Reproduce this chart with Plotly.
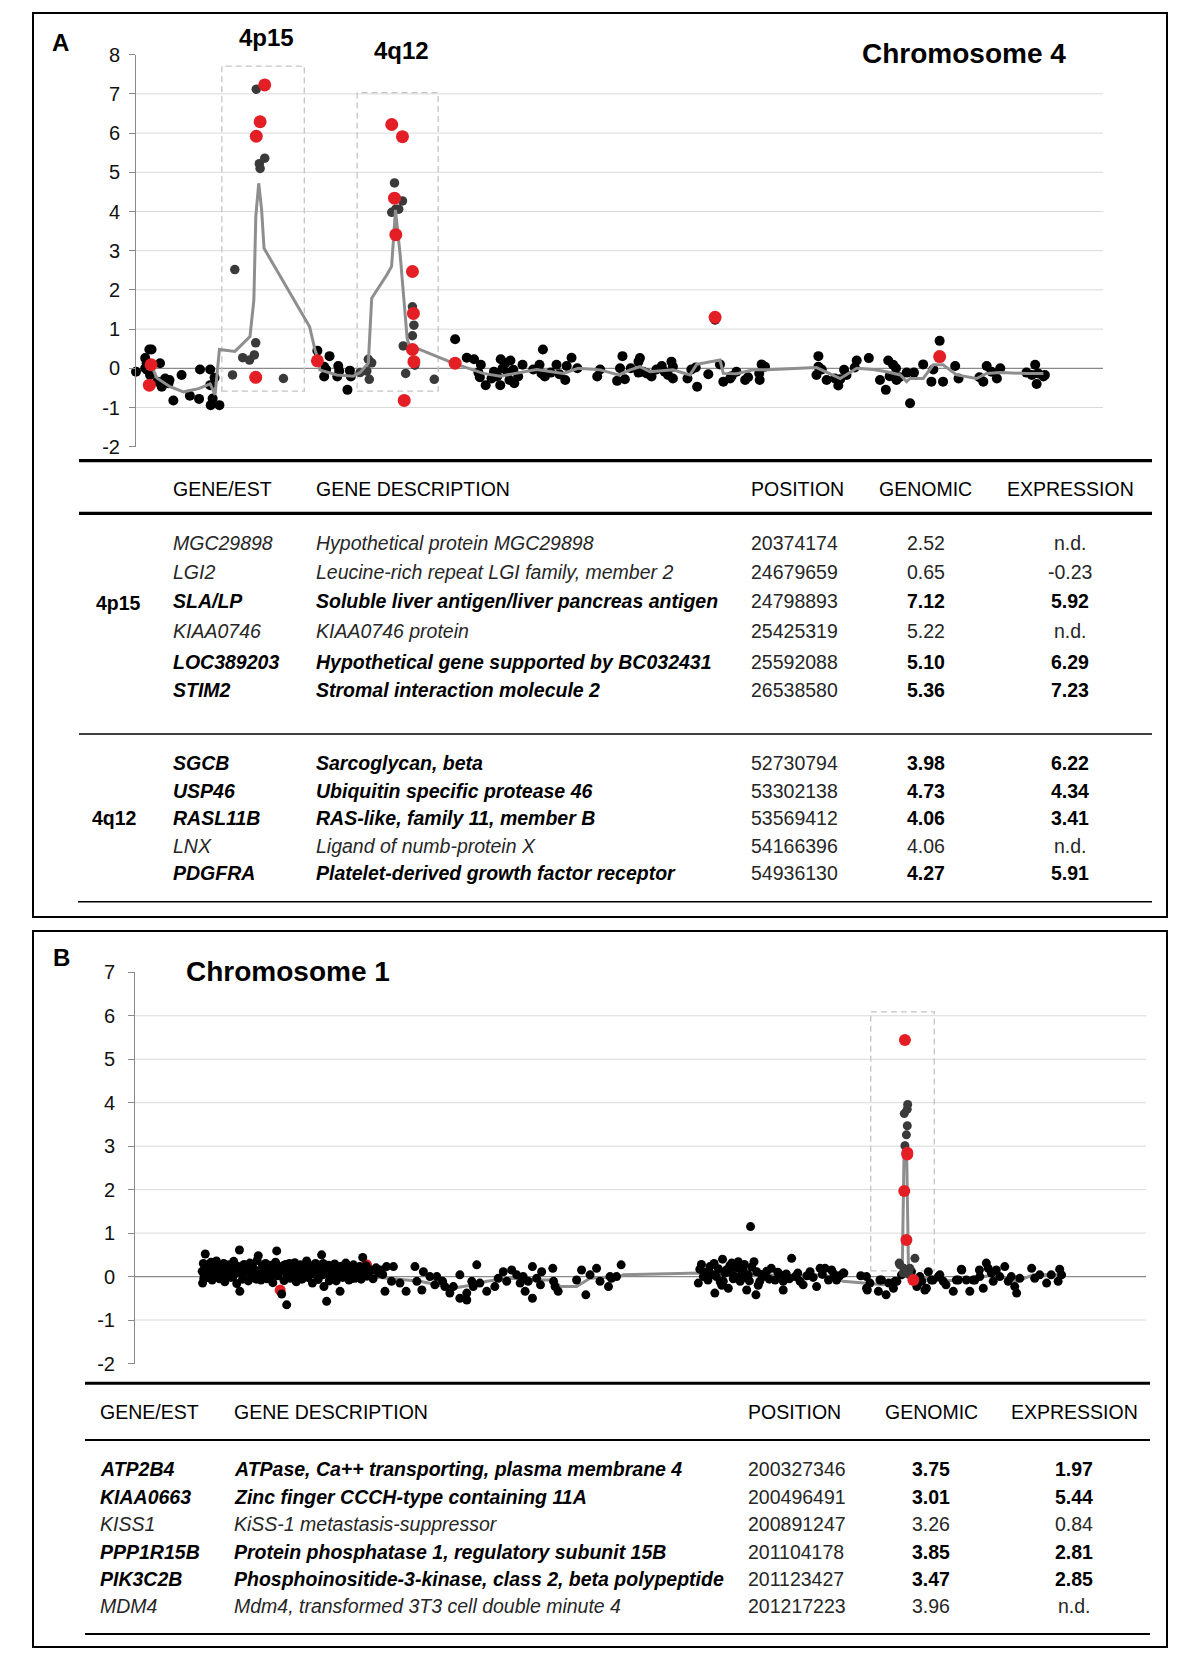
import plotly.graph_objects as go

W, H = 1200, 1663
def px(x): return x / W
def py(y): return 1 - y / H

# ------------------------------------------------------------------ DATA
# Chromosome 4 : (position Mb, log-ratio)
chr4_black = [(0.0,-0.09),(1.9,0.26),(2.2,0.13),(2.75,0.48),(3.2,0.48),(1.9,0.0),(2.3,-0.04),(2.9,-0.17),
    (4.95,0.13),(4.4,-0.34),(5.3,-0.47),(6.0,-0.26),(6.9,-0.30),(6.7,-0.38),(7.7,-0.82),(9.4,-0.17),
    (11.1,-0.70),(13.0,-0.78),(13.2,-0.03),(15.3,-0.03),(15.3,-0.43),(16.2,-0.24),(15.8,-0.77),(15.4,-0.94),(17.2,-0.94),
    (37.4,0.45),(39.9,0.31),(38.8,0.04),(39.2,-0.03),(38.8,-0.21),(41.7,0.06),(41.9,-0.07),(41.5,-0.21),
    (43.6,-0.55),(44.1,-0.06),(44.3,-0.21),
    (65.8,0.74),(68.2,0.27),(69.7,0.23),(70.6,-0.11),(71.1,0.09),(70.9,-0.23),(72.1,-0.43),(73.3,-0.26),
    (73.8,-0.09),(74.5,-0.20),(75.1,-0.43),(75.2,0.23),(75.6,0.0),(76.1,0.13),(76.6,-0.11),(77.0,-0.30),
    (77.2,0.20),(77.8,-0.04),(78.0,-0.38),(78.8,-0.21),(79.7,0.09),(81.9,-0.03),(83.2,0.09),(83.9,0.48),
    (83.6,-0.13),(84.3,-0.21),(85.5,-0.11),(86.7,0.09),(87.3,-0.15),(88.5,-0.30),(88.8,0.06),(89.8,0.27),
    (91.0,0.0),(95.7,-0.03),(95.1,-0.21),(99.2,-0.32),(100.3,0.31),(99.8,0.0),(100.8,-0.28),(102.0,0.0),
    (103.6,0.17),(103.6,-0.11),(103.9,0.26),(104.6,-0.09),(105.3,-0.13),(106.3,-0.21),(107.3,-0.03),
    (108.4,0.06),(109.0,-0.09),(109.7,-0.17),(110.4,0.17),(110.7,0.04),(110.7,-0.26),(113.7,-0.26),
    (114.5,-0.03),(115.4,0.02),(115.7,-0.47),(118.0,-0.15),(119.4,1.24),(120.4,0.10),(121.1,-0.34),
    (122.5,-0.26),(122.8,-0.20),(123.8,-0.09),(125.6,-0.30),(126.2,-0.23),(128.6,-0.30),(128.5,-0.13),
    (129.0,0.10),(129.7,0.04),(140.7,0.31),(140.3,-0.17),(140.7,0.04),(141.4,-0.03),(142.4,-0.30),
    (144.1,-0.26),(144.8,-0.44),(145.2,-0.28),(146.0,-0.04),(146.5,-0.17),(148.2,0.02),(148.6,0.20),
    (151.1,0.26),(153.4,-0.30),(154.6,-0.55),(155.1,0.20),(155.4,-0.20),(156.1,0.09),(156.7,0.0),
    (156.8,-0.30),(157.4,-0.23),(158.9,-0.11),(159.6,-0.89),(160.4,-0.11),(162.3,0.10),(164.0,-0.34),
    (164.4,-0.03),(165.7,0.70),(166.4,-0.34),(168.9,0.06),(169.6,-0.26),(173.9,-0.23),(174.7,-0.34),
    (175.4,0.06),(176.4,-0.09),(177.5,-0.26),(178.2,0.0),(183.6,-0.11),(184.7,-0.17),(185.4,0.09),
    (185.7,-0.40),(186.0,-0.13),(187.1,-0.21),(187.4,-0.17)]
chr4_boxed = [(19.9,-0.17),(20.37,2.52),(22.0,0.27),(23.4,0.21),(24.4,0.34),(24.68,0.65),(24.80,7.12),
    (25.43,5.22),(25.59,5.10),(26.54,5.36),(30.4,-0.26),
    (46.2,-0.11),(47.6,-0.07),(47.9,0.23),(48.6,0.14),(48.1,-0.28),(52.73,3.98),(53.30,4.73),(53.57,4.06),
    (54.17,4.06),(54.94,4.27),(55.1,0.57),(55.6,-0.13),(57.0,1.57),(57.3,1.10),(57.0,0.83),(57.5,0.08),(61.5,-0.28)]
chr4_red = [(3.1,0.09),(2.75,-0.43),(24.68,-0.23),(24.80,5.92),(25.59,6.29),(26.54,7.23),(37.4,0.19),
    (52.73,6.22),(53.30,4.34),(53.57,3.41),(54.94,5.91),(57.0,2.47),(57.2,1.40),(57.0,0.48),(57.3,0.17),
    (55.3,-0.82),(65.8,0.13),(119.4,1.30),(165.7,0.30)]
chr4_avg = [(3.2,0.06),(4.3,-0.25),(7.0,-0.47),(9.8,-0.60),(12.9,-0.52),(15.3,-0.40),(16.3,-0.68),(17.2,0.48),
    (20.4,0.43),(23.5,0.81),(24.3,1.74),(24.7,3.87),(25.3,4.72),(25.9,4.04),(26.4,3.06),(35.8,1.06),
    (36.9,0.47),(37.7,0.17),(37.9,-0.04),(41.4,-0.17),(44.8,-0.20),(46.2,-0.11),(47.9,0.13),(48.6,1.79),
    (51.7,2.38),(52.7,2.60),(53.5,4.04),(54.5,2.85),(55.9,0.77),(56.3,0.59),(65.4,0.13),(71.6,-0.13),
    (75.1,-0.20),(82.6,-0.03),(88.1,-0.13),(91.2,0.0),(95.7,-0.04),(99.5,-0.17),(101.9,-0.04),(103.9,0.04),
    (106.0,-0.09),(110.7,-0.04),(114.2,-0.17),(115.6,0.10),(120.4,0.21),(121.1,-0.13),(123.8,-0.14),
    (127.3,-0.04),(130.0,-0.04),(140.3,0.02),(145.2,-0.26),(148.6,0.0),(152.0,-0.03),(154.8,-0.09),
    (157.6,-0.17),(158.9,-0.34),(159.6,-0.26),(162.3,-0.26),(164.4,0.09),(166.4,0.09),(169.2,-0.17),
    (173.3,-0.26),(175.4,-0.13),(178.2,-0.11),(183.6,-0.13),(187.1,-0.13)]
chr4_regions = [(17.7,34.7,-0.58,7.71),(45.6,62.3,-0.58,7.03)]

# Chromosome 1
chr1_black = [(17.5,0.12),(17.6,-0.15),(17.8,0.30),(18.0,0.05),(18.3,0.52),(18.5,0.20),(18.8,-0.02),(19.1,0.25),
    (19.4,0.10),(19.8,0.33),(20.1,-0.08),(20.5,0.18),(20.9,0.02),(21.2,0.36),(21.6,0.14),(22.0,-0.05),
    (22.3,0.22),(22.7,0.08),(23.1,0.30),(23.4,-0.12),(23.8,0.16),(24.2,0.04),(24.6,0.27),(25.0,-0.02),
    (25.3,0.19),(25.7,0.35),(26.1,0.07),(26.5,-0.16),(26.9,0.23),(27.2,0.61),(27.3,-0.34),(27.6,0.12),
    (28.0,-0.06),(28.4,0.28),(28.8,0.09),(29.1,0.18),(29.5,-0.10),(29.9,0.31),(30.3,0.05),(30.7,0.21),
    (31.0,-0.03),(31.4,0.14),(31.8,0.37),(32.1,0.48),(32.4,0.02),(32.8,-0.08),(33.2,0.25),(33.6,0.11),
    (34.0,0.30),(34.3,-0.05),(34.7,0.17),(35.1,0.06),(35.5,0.26),(35.9,-0.14),(36.2,0.10),(36.6,0.33),
    (36.9,0.59),(37.2,0.02),(37.5,0.20),(38.2,-0.40),(38.4,0.13),(38.8,-0.09),(39.2,0.28),(39.5,-0.65),
    (39.6,0.05),(40.0,0.18),(40.4,-0.04),(40.8,0.24),(41.2,0.09),(41.6,0.32),(42.0,-0.12),(42.3,0.15),
    (42.7,0.03),(43.1,0.27),(43.5,-0.06),(43.9,0.19),(44.3,0.08),(44.7,0.36),(45.0,-0.02),(45.4,0.13),
    (45.8,0.25),(46.2,-0.15),(46.6,0.06),(47.0,0.30),(47.3,0.11),(47.7,-0.07),(48.1,0.22),(48.6,0.50),
    (48.9,0.04),(49.2,-0.23),(49.6,0.17),(49.9,-0.57),(50.0,0.09),(50.4,0.26),(50.8,-0.05),(51.2,0.14),
    (51.6,0.02),(52.0,0.29),(52.4,-0.10),(52.8,0.18),(53.2,0.07),(53.4,-0.34),(53.7,0.24),(54.1,-0.02),
    (54.5,0.12),(54.9,0.31),(55.3,0.04),(55.7,-0.08),(56.1,0.20),(56.5,0.09),(56.9,0.27),(57.3,-0.04),
    (57.7,0.15),(58.1,0.03),(58.5,0.23),(58.9,-0.06),(59.3,0.44),(59.6,0.11),(60.0,0.18),(60.4,0.01),
    (60.8,0.08),(17.9,-0.05),(18.9,0.15),(20.3,0.28),(21.9,0.08),(23.6,0.05),(25.5,0.00),(27.0,0.10),
    (28.6,0.20),(30.1,0.12),(31.6,-0.06),(33.4,-0.02),(35.3,0.00),(37.0,0.15),(38.6,0.25),(40.2,0.30),
    (41.9,0.00),(43.3,0.12),(45.2,0.20),(47.5,0.02),(49.0,0.30),(50.6,-0.10),(52.6,0.10),(54.3,0.20),
    (56.3,-0.05),(58.3,0.10),(60.2,0.25),
    (61.5,0.15),(62.0,-0.05),(62.8,0.20),(63.4,0.08),(64.0,0.15),(64.5,0.05),(65.1,-0.34),(65.5,0.23),
    (67.3,0.23),(66.8,-0.11),(69.0,-0.15),(70.6,-0.34),(72.9,0.23),(73.4,-0.11),(74.7,-0.31),(75.1,0.11),
    (76.8,0.0),(78.1,-0.19),(78.6,0.0),(80.1,-0.11),(80.7,-0.23),(82.0,-0.38),(82.9,-0.23),(84.6,0.04),
    (84.6,-0.50),(86.4,-0.54),(86.4,-0.38),(87.7,-0.11),(88.1,-0.23),(89.0,0.27),(89.8,-0.15),(91.6,-0.34),
    (93.7,-0.23),(94.6,-0.04),(95.9,0.11),(96.8,-0.11),(98.1,0.15),(99.4,0.04),(100.3,-0.15),(101.1,0.0),
    (101.6,-0.34),(102.4,-0.11),(103.5,0.23),(103.5,-0.50),(104.6,-0.04),(105.6,-0.19),(105.9,0.11),
    (108.8,0.19),(109.0,-0.11),(109.4,-0.23),(110.2,-0.34),(115.0,-0.08),(116.3,0.15),(117.4,-0.42),
    (118.5,0.04),(120.2,0.19),(121.1,-0.11),(123.3,-0.23),(123.7,0.0),(124.1,-0.04),(125.4,0.0),(126.6,0.27),
    (146.7,-0.15),(147.1,0.17),(147.5,0.28),(148.0,0.0),(148.5,0.10),(149.2,-0.08),(149.7,0.23),(150.3,0.05),
    (150.8,0.30),(151.0,-0.38),(151.4,0.0),(151.9,0.18),(152.4,-0.12),(152.8,-0.20),(153.0,0.40),(153.2,-0.11),
    (153.6,0.08),(154.0,0.15),(154.5,-0.27),(154.9,0.25),(155.0,0.10),(155.4,0.31),(155.8,-0.05),(156.3,0.0),
    (156.7,0.20),(157.0,-0.02),(157.1,0.34),(157.6,-0.11),(158.0,0.06),(158.4,0.15),(158.7,0.28),(158.9,-0.02),
    (159.3,-0.31),(159.7,0.04),(160.0,-0.10),(160.3,1.15),(160.6,0.22),(161.2,0.34),(161.7,-0.42),(161.9,0.11),
    (162.3,-0.20),(162.7,-0.11),(163.2,0.05),(163.6,0.0),(164.5,0.12),(165.2,-0.06),(165.7,0.19),(166.7,-0.08),
    (167.4,0.10),(168.0,0.04),(168.8,-0.31),(168.8,-0.11),(169.6,0.06),(170.4,-0.05),(171.0,0.42),(171.9,0.0),
    (172.6,0.08),(173.2,-0.11),(174.0,-0.19),(175.0,0.02),(175.8,0.11),(176.6,-0.02),(177.5,-0.23),(178.4,0.19),
    (179.0,0.05),(179.7,0.19),(180.6,-0.08),(181.4,0.15),(182.0,0.06),(182.7,-0.08),(183.5,0.02),(184.4,0.08),
    (184.6,0.08),(189.0,0.02),(190.5,0.0),(190.5,-0.27),(190.7,-0.31),(191.4,-0.15),(193.6,-0.34),(194.0,-0.08),
    (194.4,-0.08),(195.6,-0.42),(196.3,-0.15),(197.5,-0.27),(197.9,-0.11),(198.4,-0.11),(199.6,0.04),(202.2,0.11),
    (203.6,-0.23),(203.7,-0.19),(204.4,0.0),(204.9,-0.11),(205.7,-0.31),(206.1,-0.27),(206.6,0.11),(207.4,-0.08),
    (207.8,-0.08),(209.2,0.0),(209.6,0.04),(210.5,-0.11),(211.2,-0.19),(213.1,-0.34),(213.9,-0.08),(214.4,-0.08),
    (215.2,0.17),(215.3,0.15),(216.5,-0.08),(217.4,-0.34),(218.3,-0.08),(218.7,-0.08),(219.9,0.15),(220.0,0.0),
    (220.9,-0.27),(221.7,0.31),(222.2,0.19),(223.0,0.08),(223.5,-0.11),(224.3,0.15),(225.2,0.0),(226.5,0.23),
    (227.4,-0.11),(228.2,0.0),(229.1,-0.23),(229.6,-0.38),(230.4,-0.04),(233.5,0.19),(234.3,-0.04),(235.6,0.04),
    (237.4,-0.15),(238.6,0.04),(240.4,-0.11),(240.8,0.17),(241.3,0.04)]
chr1_boxed = [(199.0,0.31),(199.2,0.27),(200.1,0.08),(200.2,0.19),(200.33,3.75),(200.50,3.01),(200.89,3.26),
    (201.10,3.85),(201.12,3.47),(201.22,3.96),(201.8,0.19),(203.1,0.42),(200.8,0.12),(201.5,0.05)]
chr1_red_hidden = [(37.8,-0.31),(60.3,0.27)]
chr1_red = [(200.50,5.44),(201.10,2.81),(201.12,2.85),(200.33,1.97),(200.89,0.84),(202.7,-0.08)]
chr1_avg = [(17.8,0.15),(25.0,0.12),(35.0,0.08),(45.0,0.10),(55.0,0.08),(60.8,0.0),(74.2,-0.11),(82.9,-0.27),
    (88.1,-0.19),(91.6,-0.11),(97.7,-0.04),(105.5,-0.08),(109.0,-0.08),(110.7,-0.23),(115.0,-0.23),
    (118.5,-0.04),(126.3,0.0),(127.2,0.04),(147.1,0.08),(160.0,0.05),(170.0,0.02),(179.3,0.04),(184.4,-0.11),
    (189.7,-0.15),(194.9,-0.19),(198.4,-0.08),(199.8,0.10),(200.3,3.0),(200.7,3.1),(201.0,2.6),(201.4,0.3),
    (202.5,0.0),(210.5,-0.11),(219.1,-0.04),(223.5,0.04),(229.6,-0.11),(233.9,0.04),(241.3,0.04)]
chr1_regions = [(191.6,208.15,0.13,6.09)]

ticksA = [-2,-1,0,1,2,3,4,5,6,7,8]
ticksB = [-2,-1,0,1,2,3,4,5,6,7]
gridA = [-1,1,2,3,4,5,6,7]
gridB = [-1,1,2,3,4,5,6]

# Tables
headers = ["GENE/EST", "GENE DESCRIPTION", "POSITION", "GENOMIC", "EXPRESSION"]
tA_region = ["4p15", "4q12"]
tA_gene = ["MGC29898","LGI2","SLA/LP","KIAA0746","LOC389203","STIM2","SGCB","USP46","RASL11B","LNX","PDGFRA"]
tA_desc = ["Hypothetical protein MGC29898","Leucine-rich repeat LGI family, member 2",
    "Soluble liver antigen/liver pancreas antigen","KIAA0746 protein","Hypothetical gene supported by BC032431",
    "Stromal interaction molecule 2","Sarcoglycan, beta","Ubiquitin specific protease 46",
    "RAS-like, family 11, member B","Ligand of numb-protein X","Platelet-derived growth factor receptor"]
tA_pos = [20374174,24679659,24798893,25425319,25592088,26538580,52730794,53302138,53569412,54166396,54936130]
tA_gen = ["2.52","0.65","7.12","5.22","5.10","5.36","3.98","4.73","4.06","4.06","4.27"]
tA_expr = ["n.d.","-0.23","5.92","n.d.","6.29","7.23","6.22","4.34","3.41","n.d.","5.91"]
tA_bold = [False,False,True,False,True,True,True,True,True,False,True]

tB_gene = ["ATP2B4","KIAA0663","KISS1","PPP1R15B","PIK3C2B","MDM4"]
tB_desc = ["ATPase, Ca++ transporting, plasma membrane 4","Zinc finger CCCH-type containing 11A",
    "KiSS-1 metastasis-suppressor","Protein phosphatase 1, regulatory subunit 15B",
    "Phosphoinositide-3-kinase, class 2, beta polypeptide","Mdm4, transformed 3T3 cell double minute 4"]
tB_pos = [200327346,200496491,200891247,201104178,201123427,201217223]
tB_gen = ["3.75","3.01","3.26","3.85","3.47","3.96"]
tB_expr = ["1.97","5.44","0.84","2.81","2.85","n.d."]
tB_bold = [True,True,False,True,True,False]

# ------------------------------------------------------------------ STYLE
ARIAL = "Liberation Sans, Arial, sans-serif"
TAB = "Liberation Sans, Arial, sans-serif"
RED = "#e41e25"
DARK = "#3a3a3a"
LINEC = "#8e8e8e"

fig = go.Figure()

def pts(points, color, size, xa, ya):
    fig.add_trace(go.Scatter(x=[p[0] for p in points], y=[p[1] for p in points], mode="markers",
        marker=dict(color=color, size=size, line=dict(width=0)),
        xaxis=xa, yaxis=ya, hoverinfo="skip", showlegend=False, cliponaxis=False))

def avg(points, xa, ya):
    fig.add_trace(go.Scatter(x=[p[0] for p in points], y=[p[1] for p in points], mode="lines",
        line=dict(color=LINEC, width=3), xaxis=xa, yaxis=ya, hoverinfo="skip", showlegend=False,
        cliponaxis=False))

# Panel A chart
pts(chr4_black, "black", 10, "x", "y")
pts(chr4_boxed, DARK, 9.5, "x", "y")
avg(chr4_avg, "x", "y")
pts(chr4_red, RED, 13, "x", "y")
# Panel B chart
pts(chr1_red_hidden, RED, 11, "x2", "y2")
avg(chr1_avg, "x2", "y2")
pts(chr1_black, "black", 9, "x2", "y2")
pts(chr1_boxed, DARK, 9, "x2", "y2")
pts(chr1_red, RED, 12, "x2", "y2")

XMAX_A = (1103 - 136) / 4.85
XMAX_B = (1146 - 135) / 3.84

yax = dict(showline=True, linecolor="#8a8a8a", linewidth=1, ticks="outside", ticklen=6,
           tickcolor="#8a8a8a", showgrid=False, zeroline=False, automargin=False,
           tickfont=dict(family=ARIAL, size=20, color="#111111"), fixedrange=True)

fig.update_layout(
    template="none",
    width=W, height=H, autosize=False, margin=dict(l=0, r=0, t=0, b=0, pad=0, autoexpand=False),
    paper_bgcolor="white", plot_bgcolor="white", showlegend=False,
    xaxis=dict(domain=[px(136), px(1103)], range=[0, XMAX_A], visible=False, anchor="y", automargin=False),
    yaxis=dict(domain=[py(446.7), py(54.7)], range=[-2, 8], anchor="x",
               tickvals=ticksA, ticktext=[str(t) for t in ticksA], ticklabelstandoff=5, **yax),
    xaxis2=dict(domain=[px(135), px(1146)], range=[0, XMAX_B], visible=False, anchor="y2", automargin=False),
    yaxis2=dict(domain=[py(1363.5), py(972.3)], range=[-2, 7], anchor="x2",
                tickvals=ticksB, ticktext=[str(t) for t in ticksB], ticklabelstandoff=9, **yax),
)

shapes = []
for g in gridA:
    shapes.append(dict(type="line", xref="x", yref="y", x0=0, x1=XMAX_A, y0=g, y1=g,
                       line=dict(color="#dadada", width=1), layer="below"))
shapes.append(dict(type="line", xref="x", yref="y", x0=0, x1=XMAX_A, y0=0, y1=0,
                   line=dict(color="#8a8a8a", width=1.3), layer="below"))
for g in gridB:
    shapes.append(dict(type="line", xref="x2", yref="y2", x0=0, x1=XMAX_B, y0=g, y1=g,
                       line=dict(color="#dadada", width=1), layer="below"))
shapes.append(dict(type="line", xref="x2", yref="y2", x0=0, x1=XMAX_B, y0=0, y1=0,
                   line=dict(color="#8a8a8a", width=1.3), layer="below"))
for (xa, xb, ya, yb) in chr4_regions:
    shapes.append(dict(type="rect", xref="x", yref="y", x0=xa, x1=xb, y0=ya, y1=yb,
                       line=dict(color="#c4c4c4", width=1.3, dash="6px,4px"), layer="below"))
for (xa, xb, ya, yb) in chr1_regions:
    shapes.append(dict(type="rect", xref="x2", yref="y2", x0=xa, x1=xb, y0=ya, y1=yb,
                       line=dict(color="#c4c4c4", width=1.3, dash="6px,4px"), layer="below"))

def hline(y, x0, x1, w):
    shapes.append(dict(type="line", xref="paper", yref="paper", x0=px(x0), x1=px(x1), y0=py(y), y1=py(y),
                       line=dict(color="black", width=w)))

# panel frames
for (x0, y0, x1, y1) in [(33, 13, 1167, 917), (33, 931, 1167, 1647)]:
    shapes.append(dict(type="rect", xref="paper", yref="paper", x0=px(x0), x1=px(x1), y0=py(y0), y1=py(y1),
                       line=dict(color="black", width=2)))
# table rules
hline(460.7, 79, 1152, 3.3); hline(513.3, 79, 1152, 3.3); hline(734, 79, 1152, 1.6); hline(901.7, 78, 1152, 1.6)
hline(1383.3, 85, 1150, 3); hline(1440, 85, 1150, 1.8); hline(1634, 85, 1150, 1.8)
fig.update_layout(shapes=shapes)

def txt(x, y, s, size, anchor="left", family=TAB, color="black"):
    fig.add_annotation(x=px(x), y=py(y), xref="paper", yref="paper", text=s, showarrow=False,
                       xanchor=anchor, yanchor="middle", font=dict(size=size, family=family, color=color),
                       borderpad=0)

# chart labels
txt(60.6, 43, "<b>A</b>", 24, "center", ARIAL)
txt(266.5, 37, "<b>4p15</b>", 24, "center", ARIAL)
txt(401, 50.5, "<b>4q12</b>", 24, "center", ARIAL)
txt(964, 53, "<b>Chromosome 4</b>", 28, "center", ARIAL)
txt(61.5, 957, "<b>B</b>", 24, "center", ARIAL)
txt(287.5, 971.7, "<b>Chromosome 1</b>", 28, "center", ARIAL)

FS = 19.5
def table(header_y, rows_y, cols, genes, descs, poss, gens, exprs, bolds):
    gx, dx, posx, genx, exx = cols
    txt(gx, header_y, headers[0], FS)
    txt(dx, header_y, headers[1], FS)
    txt(posx, header_y, headers[2], FS)
    txt(genx, header_y, headers[3], FS, "center")
    txt(exx, header_y, headers[4], FS, "center")
    for i, y in enumerate(rows_y):
        b = bolds[i]
        col = "black" if b else "#262626"
        wrap = (lambda s: f"<b><i>{s}</i></b>") if b else (lambda s: f"<i>{s}</i>")
        num = (lambda s: f"<b>{s}</b>") if b else (lambda s: s)
        txt(gx, y, wrap(genes[i]), FS, color=col)
        txt(dx, y, wrap(descs[i]), FS, color=col)
        txt(posx, y, str(poss[i]), FS, color="#262626")
        txt(genx, y, num(gens[i]), FS, "center", color=col)
        txt(exx, y, num(exprs[i]), FS, "center", color=col)

rowsA = [543.3, 572.3, 601, 630.7, 661.7, 690, 762.7, 791, 818.3, 845.7, 873.3]
table(489, rowsA, (171.6, 315, 750, 926, 1070), tA_gene, tA_desc, tA_pos, tA_gen, tA_expr, tA_bold)
txt(118, 603, "<b>" + tA_region[0] + "</b>", FS, "center")
txt(114, 818.3, "<b>" + tA_region[1] + "</b>", FS, "center")

rowsB = [1469.3, 1496.7, 1524.3, 1551.7, 1579, 1606]
table(1411.7, rowsB, (99.3, 232.7, 747, 931, 1074), tB_gene, tB_desc, tB_pos, tB_gen, tB_expr, tB_bold)

post = ("document.documentElement.style.margin='0';document.documentElement.style.padding='0';"
        "document.body.style.margin='0';document.body.style.padding='0';document.body.style.overflow='hidden';"
        "var gd=document.getElementById('{plot_id}');gd.style.position='absolute';"
        "gd.style.left='0px';gd.style.top='0px';")
fig.write_html("out.html", config={"staticPlot": True}, post_script=post)
